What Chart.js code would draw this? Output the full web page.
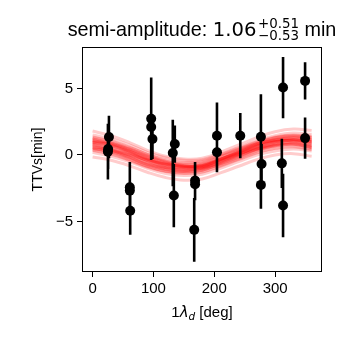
<!DOCTYPE html>
<html>
<head>
<meta charset="utf-8">
<script src="https://cdn.jsdelivr.net/npm/chart.js@4/dist/chart.umd.min.js"></script>
<style>
  html, body { margin: 0; padding: 0; background: #fff; overflow: hidden; }
  #wrap { width: 340px; height: 340px; position: relative; }
</style>
</head>
<body>
<div id="wrap"><canvas id="c" width="340" height="340"></canvas></div>
<script>
// ---------------- data ----------------
const lambdaDeg = [26.9, 25.5, 25.2, 61.2, 61.2, 61.8, 96.3, 96.3, 98.4, 131.8, 135.1, 133.5,
                   168.4, 168.4, 167.0, 204.4, 204.4, 242.7, 276.6, 277.7, 276.6, 313.0, 311.0, 313.0,
                   349.2, 349.2];
const ttvMin = [1.35, 0.45, 0.25, -2.43, -2.68, -4.2, 2.72, 2.1, 1.2, 0.15, 0.82, -3.05,
                -1.93, -2.2, -5.63, 1.45, 0.2, 1.45, 1.37, -0.68, -2.25, 5.07, -0.63, -3.8,
                5.57, 1.27];
const ttvErr = [1.6, 1.5, 2.1, 1.9, 1.5, 1.8, 3.1, 1.9, 1.5, 2.5, 1.4, 2.38,
                1.4, 1.2, 2.4, 2.5, 1.5, 1.7, 3.2, 1.5, 1.8, 2.3, 1.85, 2.38,
                1.4, 1.55];

// model draws (sinusoids), sampled at these phases
const curveLambda = [0, 30, 60, 90, 120, 150, 180, 210, 240, 270, 300, 330, 360];
const modelDraws = [
  [1.3, 1.0, 0.5, -0.05, -0.45, -0.6, -0.5, -0.05, 0.45, 0.95, 1.3, 1.45, 1.35],
  [0.4, 0.1, -0.35, -0.85, -1.2, -1.35, -1.25, -0.8, -0.3, 0.2, 0.5, 0.65, 0.45],
  [1.1, 0.75, 0.2, -0.45, -0.95, -1.15, -1.05, -0.5, 0.05, 0.65, 1.1, 1.3, 1.15],
  [0.6, 0.4, 0.05, -0.35, -0.65, -0.75, -0.7, -0.3, 0.1, 0.5, 0.75, 0.85, 0.65],
  [0.95, 0.8, 0.45, -0.05, -0.55, -0.9, -1.0, -0.75, -0.25, 0.3, 0.75, 1.0, 1.0],
  [0.7, 0.3, -0.2, -0.7, -0.95, -0.95, -0.7, -0.15, 0.4, 0.85, 1.05, 1.05, 0.75],
  [1.5, 1.2, 0.75, 0.2, -0.2, -0.4, -0.35, 0.05, 0.55, 1.05, 1.45, 1.65, 1.55],
  [0.2, -0.1, -0.5, -1.0, -1.4, -1.55, -1.45, -1.0, -0.5, 0.0, 0.3, 0.45, 0.3],
  [0.85, 0.5, 0.0, -0.6, -1.05, -1.25, -1.15, -0.6, 0.0, 0.6, 1.0, 1.15, 0.95],
  [1.0, 0.7, 0.3, -0.2, -0.55, -0.7, -0.6, -0.15, 0.3, 0.8, 1.1, 1.25, 1.1],
  [0.6, 0.35, -0.1, -0.65, -1.0, -1.15, -1.05, -0.55, -0.05, 0.45, 0.8, 0.9, 0.7],
  [1.2, 0.85, 0.3, -0.3, -0.8, -1.0, -0.9, -0.35, 0.25, 0.85, 1.3, 1.45, 1.3],
  [0.5, 0.3, 0.0, -0.4, -0.7, -0.85, -0.8, -0.4, 0.05, 0.45, 0.7, 0.8, 0.55],
  [1.05, 0.9, 0.55, 0.05, -0.45, -0.8, -0.9, -0.65, -0.15, 0.45, 0.9, 1.15, 1.1],
  [0.8, 0.4, -0.15, -0.75, -1.1, -1.2, -0.95, -0.35, 0.3, 0.85, 1.15, 1.15, 0.85],
  [0.35, 0.05, -0.4, -0.9, -1.25, -1.4, -1.3, -0.85, -0.35, 0.15, 0.5, 0.6, 0.4],
  [1.35, 1.05, 0.6, 0.05, -0.35, -0.55, -0.45, 0.0, 0.5, 1.0, 1.35, 1.5, 1.4],
  [0.9, 0.6, 0.15, -0.4, -0.85, -1.0, -0.9, -0.45, 0.1, 0.6, 0.95, 1.1, 0.95],
  [0.75, 0.5, 0.1, -0.4, -0.75, -0.9, -0.8, -0.3, 0.2, 0.7, 1.0, 1.05, 0.8],
  [1.1, 0.8, 0.35, -0.15, -0.6, -0.8, -0.75, -0.3, 0.2, 0.75, 1.15, 1.3, 1.15],
  [0.55, 0.2, -0.3, -0.85, -1.2, -1.3, -1.15, -0.65, -0.1, 0.4, 0.75, 0.85, 0.6],
  [0.95, 0.7, 0.25, -0.3, -0.7, -0.85, -0.8, -0.35, 0.15, 0.65, 1.0, 1.15, 1.0],
  [1.25, 0.9, 0.4, -0.2, -0.7, -0.9, -0.85, -0.35, 0.2, 0.8, 1.2, 1.4, 1.3],
  [0.45, 0.25, -0.15, -0.6, -0.95, -1.1, -1.0, -0.55, -0.05, 0.4, 0.7, 0.8, 0.55],
  [1.8, 1.45, 0.95, 0.35, -0.1, -0.3, -0.25, 0.2, 0.75, 1.3, 1.75, 1.95, 1.85],
  [-0.15, -0.4, -0.8, -1.3, -1.7, -1.9, -1.8, -1.35, -0.85, -0.35, 0.0, 0.1, -0.1]
];

// axis ticks and text
const xTicks = [0, 100, 200, 300];
const yTicks = [-5, 0, 5];
const titlePrefix = 'semi-amplitude: ';
const titleValue = '1.06';
const titleUpper = '+0.51';
const titleLower = '\u22120.53';
const titleUnit = ' min';
const yLabel = 'TTVs[min]';
const xLabelParts = ['1', '\u03bb', 'd', ' [deg]'];

// ---------------- chart ----------------
const SANS = '"Liberation Sans", Arial, Helvetica, sans-serif';
const DEJAVU = '"DejaVu Sans", sans-serif';

const datasets = [];
datasets.push({
  label: 'points',
  data: lambdaDeg.map((x, i) => ({ x: x, y: ttvMin[i] })),
  showLine: false,
  pointRadius: 5,
  pointHoverRadius: 5,
  pointBackgroundColor: '#000',
  pointBorderWidth: 0,
  order: 0
});
const errData = [];
lambdaDeg.forEach((x, i) => {
  errData.push({ x: x, y: ttvMin[i] - ttvErr[i] });
  errData.push({ x: x, y: ttvMin[i] + ttvErr[i] });
  errData.push({ x: x, y: null });
});
datasets.push({
  label: 'errors',
  data: errData,
  borderColor: '#000',
  borderWidth: 2.6,
  pointRadius: 0,
  spanGaps: false,
  tension: 0,
  order: 1
});
modelDraws.forEach((arr, k) => {
  datasets.push({
    label: 'draw' + k,
    data: curveLambda.map((x, i) => ({ x: x, y: arr[i] })),
    borderColor: 'rgba(255,0,0,0.2)',
    borderWidth: 3,
    pointRadius: 0,
    tension: 0.4,
    fill: false,
    order: 2
  });
});

const fmt = v => (v < 0 ? '\u2212' + Math.abs(v) : String(v));

const framePlugin = {
  id: 'frame',
  afterDraw(chart) {
    const { ctx, chartArea: a } = chart;
    ctx.save();
    ctx.strokeStyle = '#000';
    ctx.lineWidth = 1;
    ctx.strokeRect(Math.round(a.left) + 0.5, Math.round(a.top) + 0.5,
                   Math.round(a.right - a.left) - 1, Math.round(a.bottom - a.top) - 1);

    const cx = (a.left + a.right) / 2;
    ctx.fillStyle = '#000';
    ctx.textBaseline = 'alphabetic';
    ctx.textAlign = 'left';
    // title
    const fMain = '19.8px ' + SANS, fNum = '19.6px ' + DEJAVU, fSmall = '13.4px ' + DEJAVU;
    ctx.font = fMain; const w1 = ctx.measureText(titlePrefix).width;
    ctx.font = fNum; const w2 = ctx.measureText(titleValue).width;
    ctx.font = fSmall; const w3 = Math.max(ctx.measureText(titleUpper).width, ctx.measureText(titleLower).width);
    ctx.font = fMain; const w4 = ctx.measureText(titleUnit).width;
    const gap = 1.5;
    const tot = w1 + w2 + gap + w3 + w4;
    let x = cx - tot / 2;
    const by = 36;
    ctx.font = fMain; ctx.fillText(titlePrefix, x, by); x += w1;
    ctx.font = fNum; ctx.fillText(titleValue, x, by); x += w2 + gap;
    ctx.font = fSmall; ctx.fillText(titleUpper, x, by - 8); ctx.fillText(titleLower, x, by + 4.3); x += w3;
    ctx.font = fMain; ctx.fillText(titleUnit, x, by);

    // x label
    const fx1 = '15px ' + SANS, fx2 = 'italic 15px ' + DEJAVU, fx3 = 'italic 10.5px ' + DEJAVU;
    ctx.font = fx1; const a1 = ctx.measureText(xLabelParts[0]).width;
    ctx.font = fx2; const a2 = ctx.measureText(xLabelParts[1]).width;
    ctx.font = fx3; const a3 = ctx.measureText(xLabelParts[2]).width;
    ctx.font = fx1; const a4 = ctx.measureText(xLabelParts[3]).width;
    const tx = a1 + a2 + a3 + a4;
    let xx = cx - tx / 2;
    const xb = 316.5;
    ctx.font = fx1; ctx.fillText(xLabelParts[0], xx, xb); xx += a1;
    ctx.font = fx2; ctx.fillText(xLabelParts[1], xx, xb); xx += a2;
    ctx.font = fx3; ctx.fillText(xLabelParts[2], xx, xb + 3); xx += a3;
    ctx.font = fx1; ctx.fillText(xLabelParts[3], xx, xb);
    ctx.restore();
  }
};

new Chart(document.getElementById('c'), {
  type: 'line',
  data: { datasets: datasets },
  options: {
    responsive: false,
    animation: false,
    devicePixelRatio: 1,
    layout: { padding: { left: 0, right: 18, top: 47, bottom: 0 } },
    plugins: { legend: { display: false }, tooltip: { enabled: false }, title: { display: false } },
    scales: {
      x: {
        type: 'linear',
        min: -17.4,
        max: 377,
        afterBuildTicks: s => { s.ticks = xTicks.map(v => ({ value: v })); },
        afterFit: s => { s.height = 68; },
        grid: { drawOnChartArea: false, drawTicks: true, tickLength: 5, color: '#000', tickWidth: 1 },
        border: { display: false },
        ticks: { color: '#000', font: { family: SANS, size: 15 }, padding: 3, maxRotation: 0, callback: v => fmt(v) }
      },
      y: {
        type: 'linear',
        min: -8.8,
        max: 8.12,
        afterBuildTicks: s => { s.ticks = yTicks.map(v => ({ value: v })); },
        afterFit: s => { s.width = 82; },
        grid: { drawOnChartArea: false, drawTicks: true, tickLength: 5, color: '#000', tickWidth: 1 },
        border: { display: false },
        ticks: { color: '#000', font: { family: SANS, size: 15 }, padding: 4, callback: v => fmt(v) },
        title: { display: true, text: yLabel, color: '#000', font: { family: SANS, size: 14 }, padding: { top: 30, bottom: 0 } }
      }
    }
  },
  plugins: [framePlugin]
});
</script>
</body>
</html>
